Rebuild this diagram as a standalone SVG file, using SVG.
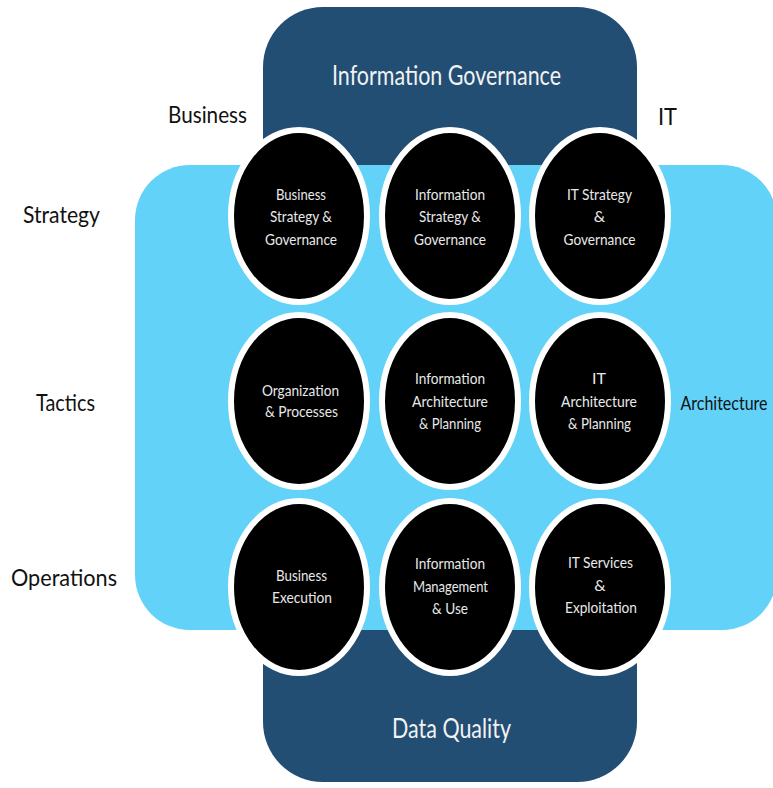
<svg xmlns="http://www.w3.org/2000/svg" width="773" height="788" viewBox="0 0 773 788">
<style>
text{font-family:Lato,"Liberation Sans",sans-serif}
.lbl{fill:#111;text-anchor:middle}
.big{fill:#f2f2f2;text-anchor:middle;font-size:27px}
.node ellipse{fill:#000;stroke:#fff;stroke-width:6}
.node text{fill:#e8e8e8;text-anchor:middle;font-size:16px}
</style>
<rect width="773" height="788" fill="#fff"/>
<g id="governance-band">
<rect x="263" y="7" width="374" height="320" rx="60" fill="#234e74"/>
<text class="big" x="446.5" y="85" textLength="229" lengthAdjust="spacingAndGlyphs">Information Governance</text>
</g>
<g id="quality-band">
<rect x="263" y="460" width="374" height="322" rx="60" fill="#234e74"/>
</g>
<g id="architecture-band">
<rect x="135" y="165" width="642" height="465" rx="55" fill="#62d2f9"/>
</g>
<text class="big" x="451.5" y="738" textLength="119" lengthAdjust="spacingAndGlyphs">Data Quality</text>
<g id="labels">
<text class="lbl" x="207.5" y="123" font-size="24" textLength="79" lengthAdjust="spacingAndGlyphs">Business</text>
<text class="lbl" x="667.5" y="125" font-size="24" textLength="19" lengthAdjust="spacingAndGlyphs">IT</text>
<text class="lbl" x="61.5" y="223" font-size="24" textLength="77" lengthAdjust="spacingAndGlyphs">Strategy</text>
<text class="lbl" x="65.5" y="411" font-size="24" textLength="59" lengthAdjust="spacingAndGlyphs">Tactics</text>
<text class="lbl" x="64" y="586" font-size="24" textLength="106" lengthAdjust="spacingAndGlyphs">Operations</text>
<text class="lbl" x="0" y="0" font-size="20" transform="translate(724 410) scale(0.8 1)">Architecture</text>
</g>
<g id="connectors"></g>
<g id="n-business-strategy" class="node">
<ellipse cx="299" cy="216" rx="68" ry="86"/>
<text x="301" y="200" textLength="50" lengthAdjust="spacingAndGlyphs">Business</text><text x="301" y="222" textLength="62" lengthAdjust="spacingAndGlyphs">Strategy &amp;</text><text x="301" y="245" textLength="72" lengthAdjust="spacingAndGlyphs">Governance</text>
</g>
<g id="n-information-strategy" class="node">
<ellipse cx="450" cy="216" rx="68" ry="86"/>
<text x="450" y="200" textLength="70" lengthAdjust="spacingAndGlyphs">Information</text><text x="450" y="222" textLength="62" lengthAdjust="spacingAndGlyphs">Strategy &amp;</text><text x="450" y="245" textLength="72" lengthAdjust="spacingAndGlyphs">Governance</text>
</g>
<g id="n-it-strategy" class="node">
<ellipse cx="600" cy="216" rx="68" ry="86"/>
<text x="599.5" y="200" textLength="65" lengthAdjust="spacingAndGlyphs">IT Strategy</text><text x="599.5" y="222">&amp;</text><text x="599.5" y="245" textLength="72" lengthAdjust="spacingAndGlyphs">Governance</text>
</g>
<g id="n-organization" class="node">
<ellipse cx="299" cy="401" rx="68" ry="86"/>
<text x="300.5" y="396" textLength="77" lengthAdjust="spacingAndGlyphs">Organization</text><text x="301.5" y="417" textLength="73" lengthAdjust="spacingAndGlyphs">&amp; Processes</text>
</g>
<g id="n-information-architecture" class="node">
<ellipse cx="450" cy="401" rx="68" ry="86"/>
<text x="450" y="384" textLength="70" lengthAdjust="spacingAndGlyphs">Information</text><text x="450" y="407" textLength="76" lengthAdjust="spacingAndGlyphs">Architecture</text><text x="450" y="429" textLength="62" lengthAdjust="spacingAndGlyphs">&amp; Planning</text>
</g>
<g id="n-it-architecture" class="node">
<ellipse cx="600" cy="401" rx="68" ry="86"/>
<text x="599" y="384">IT</text><text x="599" y="407" textLength="76" lengthAdjust="spacingAndGlyphs">Architecture</text><text x="599.5" y="429" textLength="63" lengthAdjust="spacingAndGlyphs">&amp; Planning</text>
</g>
<g id="n-business-execution" class="node">
<ellipse cx="299" cy="587" rx="68" ry="86"/>
<text x="301.5" y="581" textLength="51" lengthAdjust="spacingAndGlyphs">Business</text><text x="302" y="603" textLength="60" lengthAdjust="spacingAndGlyphs">Execution</text>
</g>
<g id="n-information-management" class="node">
<ellipse cx="450" cy="587" rx="68" ry="86"/>
<text x="450" y="569" textLength="70" lengthAdjust="spacingAndGlyphs">Information</text><text x="450.5" y="592" textLength="75" lengthAdjust="spacingAndGlyphs">Management</text><text x="450" y="614" textLength="36" lengthAdjust="spacingAndGlyphs">&amp; Use</text>
</g>
<g id="n-it-services" class="node">
<ellipse cx="600" cy="587" rx="68" ry="86"/>
<text x="600.5" y="568" textLength="65" lengthAdjust="spacingAndGlyphs">IT Services</text><text x="600" y="591">&amp;</text><text x="601" y="613" textLength="72" lengthAdjust="spacingAndGlyphs">Exploitation</text>
</g>
</svg>
